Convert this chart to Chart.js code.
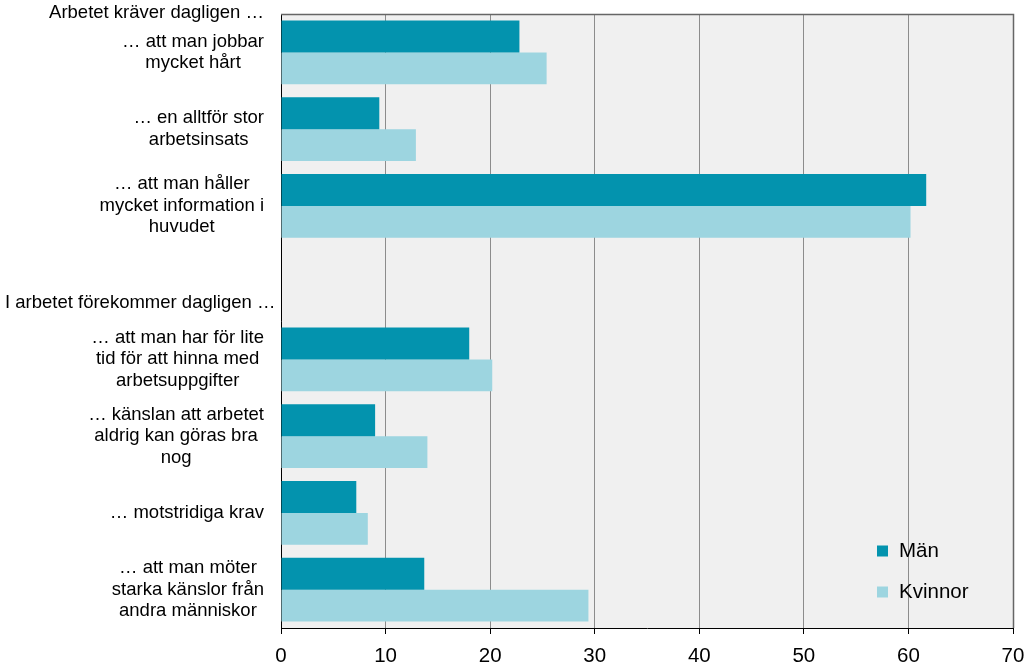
<!DOCTYPE html>
<html>
<head>
<meta charset="utf-8">
<script src="https://cdn.jsdelivr.net/npm/chart.js@4/dist/chart.umd.min.js"></script>
<style>
  body { margin: 0; background: #fff; }
  #wrap { width: 1028px; height: 666px; }
</style>
</head>
<body>
<div id="wrap"><canvas id="myChart"></canvas></div>
<script>
// data
const categories = [
    ["… att man jobbar", "mycket hårt"],
    ["… en alltför stor", "arbetsinsats"],
    ["… att man håller", "mycket information i", "huvudet"],
    [""],
    ["… att man har för lite", "tid för att hinna med", "arbetsuppgifter"],
    ["… känslan att arbetet", "aldrig kan göras bra", "nog"],
    ["… motstridiga krav"],
    ["… att man möter", "starka känslor från", "andra människor"]
];
const groupHeaders = ["Arbetet kräver dagligen …", "I arbetet förekommer dagligen …"];
const seriesNames = ["Män", "Kvinnor"];
const manValues = [22.8, 9.4, 61.7, null, 18.0, 9.0, 7.2, 13.7];
const kvinnorValues = [25.4, 12.9, 60.2, null, 20.2, 14.0, 8.3, 29.4];
const xTicks = [0, 10, 20, 30, 40, 50, 60, 70];

const FONT = "'Liberation Sans', Arial, sans-serif";
const colors = ["#0393ae", "#9dd5e0"];

// bakgrund + ram runt ritytan
const plotBg = {
    id: "plotBg",
    beforeDraw(chart) {
        const { ctx, chartArea: a } = chart;
        ctx.save();
        ctx.fillStyle = "#f0f0f0";
        ctx.fillRect(a.left, a.top, a.right - a.left, a.bottom - a.top);
        ctx.restore();
    },
    afterDraw(chart) {
        const { ctx, chartArea: a } = chart;
        ctx.save();
        ctx.strokeStyle = "#666";
        ctx.lineWidth = 1.5;
        ctx.beginPath();
        ctx.moveTo(a.left, a.top + 0.5);
        ctx.lineTo(a.right + 0.5, a.top + 0.5);
        ctx.lineTo(a.right + 0.5, a.bottom);
        ctx.stroke();
        ctx.restore();
    }
};

// kategorietiketter: varje block centrerat, högerkant mot axeln
const catLabels = {
    id: "catLabels",
    afterDraw(chart) {
        const { ctx } = chart;
        const yScale = chart.scales.y;
        const rightEdge = 264;
        const lineH = 21.5;
        ctx.save();
        ctx.font = "18.5px " + FONT;
        ctx.fillStyle = "#000";
        ctx.textBaseline = "middle";
        ctx.textAlign = "center";
        categories.forEach((lines, i) => {
            const w = Math.max(...lines.map(l => ctx.measureText(l).width));
            const cx = rightEdge - w / 2;
            const cy = yScale.getPixelForValue(i);
            lines.forEach((l, j) => {
                ctx.fillText(l, cx, cy + (j - (lines.length - 1) / 2) * lineH);
            });
        });
        // rubriker för grupperna
        ctx.textAlign = "right";
        ctx.fillText(groupHeaders[0], rightEdge, yScale.getPixelForValue(0) - 39);
        ctx.textAlign = "left";
        ctx.fillText(groupHeaders[1], 5, yScale.getPixelForValue(3) + 20);
        ctx.restore();
    }
};

// förklaring inne i ritytan, nere till höger
const innerLegend = {
    id: "innerLegend",
    afterDraw(chart) {
        const { ctx, chartArea: a } = chart;
        ctx.save();
        ctx.font = "20.5px " + FONT;
        ctx.textBaseline = "middle";
        ctx.textAlign = "left";
        chart.data.datasets.forEach((ds, i) => {
            const y = a.bottom - 77 + i * 41;
            ctx.fillStyle = ds.backgroundColor;
            ctx.fillRect(a.right - 136, y - 5.5, 11, 11);
            ctx.fillStyle = "#000";
            ctx.fillText(ds.label, a.right - 114, y);
        });
        ctx.restore();
    }
};

const ctx = document.getElementById("myChart").getContext("2d");
const myChart = new Chart(ctx, {
    type: "bar",
    data: {
        labels: categories,
        datasets: [
            { label: seriesNames[0], data: manValues, backgroundColor: colors[0], borderWidth: 0 },
            { label: seriesNames[1], data: kvinnorValues, backgroundColor: colors[1], borderWidth: 0 }
        ]
    },
    options: {
        indexAxis: "y",
        responsive: true,
        maintainAspectRatio: false,
        animation: false,
        categoryPercentage: 0.83,
        barPercentage: 1.0,
        layout: { padding: { top: 14, right: 15, left: 0, bottom: 0 } },
        plugins: {
            legend: { display: false },
            tooltip: { enabled: false }
        },
        scales: {
            x: {
                min: 0,
                max: 70,
                afterBuildTicks: (axis) => { axis.ticks = xTicks.map(v => ({ value: v })); },
                afterFit: (axis) => {
                    axis.height = 38;
                    axis.paddingLeft = 0;
                    axis.paddingRight = 0;
                },
                ticks: {
                    color: "#000",
                    font: { family: FONT, size: 20.5 },
                    padding: 10,
                    maxRotation: 0
                },
                grid: {
                    color: "#8c8c8c",
                    lineWidth: 1,
                    drawTicks: true,
                    tickLength: 6,
                    tickColor: "#000"
                },
                border: { display: true, color: "#000", width: 1 }
            },
            y: {
                afterFit: (axis) => { axis.width = 281; },
                ticks: { display: false },
                grid: { display: false },
                border: { display: true, color: "#000", width: 1 }
            }
        }
    },
    plugins: [plotBg, catLabels, innerLegend]
});
</script>
</body>
</html>
